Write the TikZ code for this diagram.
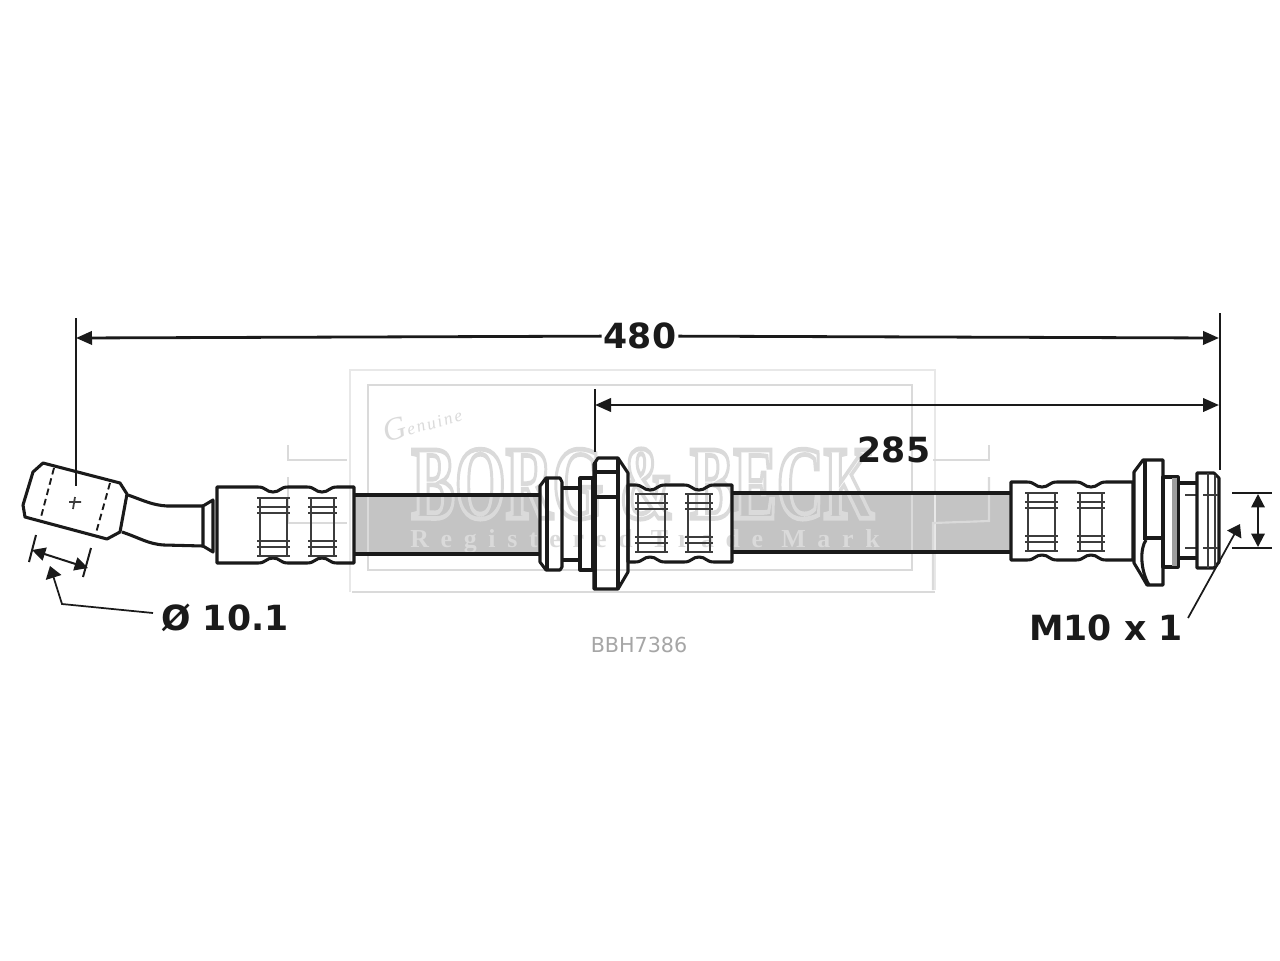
\documentclass[tikz,border=0pt]{standalone}
\usepackage{fontspec}
\usepackage{graphicx}
\usetikzlibrary{arrows.meta}
\setmainfont{DejaVu Sans}
\newfontfamily\lblfont{DejaVu Sans Bold}
\newfontfamily\wmfont{Liberation Serif Bold}
\newfontfamily\subfont[LetterSpace=45]{Liberation Serif Bold}
\newfontfamily\genfont[LetterSpace=12]{Liberation Serif Italic}
\definecolor{ink}{HTML}{1A1A1A}
\definecolor{wmark}{HTML}{DADADA}
\definecolor{wmfaint}{HTML}{E8E8E8}
\definecolor{hosegrey}{HTML}{C4C4C4}
\newcommand{\outlineon}[1]{\special{pdf:code 1 Tr #1 w}}
\newcommand{\outlineoff}{\special{pdf:code 0 Tr}}
\tikzset{
  part/.style={draw=ink,line width=2.3pt,line join=round},
  thinpart/.style={draw=ink!85,line width=1.3pt},
  dashpart/.style={draw=ink,line width=1.4pt,dash pattern=on 5pt off 3pt},
  dimline/.style={draw=ink,line width=2.1pt},
  extline/.style={draw=ink,line width=1.5pt},
  biarrow/.style={dimline,{Triangle[length=12pt,width=10pt]}-{Triangle[length=12pt,width=10pt]}},
  smallbi/.style={draw=ink,line width=1.5pt,{Triangle[length=10pt,width=10pt]}-{Triangle[length=10pt,width=10pt]}},
  leader/.style={draw=ink,line width=1.3pt,-{Triangle[length=9pt,width=12pt]}},
  dimlabel/.style={font=\lblfont\fontsize{26}{26}\selectfont,text=ink,inner sep=1.5pt},
  wm/.style={draw=wmark,line width=1.6pt},
  wmf/.style={draw=wmfaint,line width=1.6pt},
}
\newcommand{\crimpshape}[6]{%
  \draw[part] (#1,#3) -- ({#5-15},#3)
    .. controls ({#5-7},#3) and ({#5-7},{#3+5}) .. (#5,{#3+5})
    .. controls ({#5+7},{#3+5}) and ({#5+7},#3) .. ({#5+15},#3)
    -- ({#6-15},#3)
    .. controls ({#6-7},#3) and ({#6-7},{#3+5}) .. (#6,{#3+5})
    .. controls ({#6+7},{#3+5}) and ({#6+7},#3) .. ({#6+15},#3)
    -- (#2,#3) -- (#2,#4) -- ({#6+15},#4)
    .. controls ({#6+7},#4) and ({#6+7},{#4-5}) .. (#6,{#4-5})
    .. controls ({#6-7},{#4-5}) and ({#6-7},#4) .. ({#6-15},#4)
    -- ({#5+15},#4)
    .. controls ({#5+7},#4) and ({#5+7},{#4-5}) .. (#5,{#4-5})
    .. controls ({#5-7},{#4-5}) and ({#5-7},#4) .. ({#5-15},#4)
    -- (#1,#4) -- cycle;}
\newcommand{\bandshape}[4]{%
  \draw[thinpart] ({#1+3},#3) -- ({#1+3},#4) ({#2-3},#3) -- ({#2-3},#4);
  \draw[thinpart] (#1,{#3+1}) -- (#2,{#3+1})
    (#1,{#3+10}) -- (#2,{#3+10}) (#1,{#3+16}) -- (#2,{#3+16})
    (#1,{#4-16}) -- (#2,{#4-16}) (#1,{#4-10}) -- (#2,{#4-10})
    (#1,{#4-1}) -- (#2,{#4-1});}
\begin{document}
\begin{tikzpicture}[x=.75pt,y=-.75pt]
\useasboundingbox (0,0) rectangle (1280,960);
\fill[white] (0,0) rectangle (1280,960);

% hose fill
\fill[hosegrey] (354,496) rectangle (540,554);
\fill[hosegrey] (732,494) rectangle (1011,552);

% watermark
\draw[wmf] (350,592) -- (350,370) -- (935,370) -- (935,590);
\draw[wm] (352,592) -- (935,592);
\draw[wm] (368,570) -- (368,385) -- (912,385) -- (912,570) -- cycle;
\draw[wm] (288,445) -- (288,460) -- (347,460);
\draw[wm] (288,477) -- (288,523) -- (347,523);
\draw[wm] (933,460) -- (989,460) -- (989,445);
\draw[wm] (989,477) -- (989,521) -- (933,523) -- (933,590);
\node[text=wmark,inner sep=0pt] (wmA) at (643,484)
  {\resizebox{347pt}{52pt}{\outlineon{.45}\wmfont BORG \& BECK\outlineoff}};
\node[text=wmark,inner sep=0pt] (wmC) at (645,541)
  {\resizebox{352pt}{!}{\subfont Registered Trade Mark}};
\node[text=wmark,inner sep=0pt,rotate=16] (wmD) at (422,421)
  {\genfont\fontsize{24}{24}\selectfont G\fontsize{13}{13}\selectfont enuine};

% hose edges
\draw[part] (354,495) -- (540,495) (354,554) -- (540,554);
\draw[part] (732,493) -- (1011,493) (732,552) -- (1011,552);

% left banjo end
\draw[part] (43,463) -- (120,483) -- (127,494) -- (120,532) -- (107,539) -- (25,517) -- (23,505) -- (33,472) -- cycle;
\draw[dashpart] (54,468) -- (41,517) (110,483) -- (96,533);
\draw[thinpart] (69,502) -- (81,502) (75,497) -- (73,509);
\draw[part] (128,495) .. controls (145,501) and (152,505) .. (167,506) -- (203,506);
\draw[part] (122,532) .. controls (140,538) and (148,544) .. (164,545) -- (203,546);
\draw[part] (203,506) -- (213,500) -- (213,552) -- (203,546) -- cycle;

% crimps and bands
\crimpshape{217}{354}{487}{563}{273}{322}
\bandshape{257}{290}{497}{557}
\bandshape{308}{337}{497}{557}
\crimpshape{628}{732}{485}{562}{650}{699}
\bandshape{635}{668}{493}{553}
\bandshape{685}{713}{493}{553}
\crimpshape{1011}{1133}{482}{560}{1042}{1091}
\bandshape{1025}{1058}{492}{552}
\bandshape{1077}{1105}{492}{552}

% centre fitting
\draw[part] (546,478) -- (560,478) -- (562,482) -- (562,567) -- (560,570) -- (546,570) -- (540,562) -- (540,486) -- cycle;
\draw[part] (547,478) -- (547,570);
\draw[part] (562,488) -- (580,488) (562,560) -- (580,560);
\draw[part] (580,478) -- (593,478) -- (593,570) -- (580,570) -- cycle;
\draw[part] (598,458) -- (618,458) -- (628,473) -- (628,572) -- (618,589) -- (594,589) -- (594,464) -- cycle;
\draw[draw=ink,line width=3pt] (595,462) -- (595,588);
\draw[part] (618,458) -- (618,589);
\draw[part] (596,472) -- (618,472) (596,497) -- (618,497);

% right fitting
\draw[part] (1143,460) -- (1163,460) -- (1163,585) -- (1147,585) -- (1140,573) -- (1134,563) -- (1134,472) -- cycle;
\draw[part] (1145,461) -- (1145,540);
\draw[part] (1146,538) -- (1163,538);
\draw[part] (1146,540) .. controls (1140,548) and (1140,570) .. (1149,585);
\draw[part] (1163,477) -- (1178,477) -- (1178,567) -- (1163,567) -- cycle;
\fill[hosegrey!80!black] (1172,478) rectangle (1177,566);
\draw[part] (1178,483) -- (1197,483) (1178,558) -- (1197,558);
\draw[thinpart] (1185,495) -- (1197,495) (1185,548) -- (1197,548);
\draw[part] (1197,473) -- (1214,473) -- (1219,478) -- (1219,562) -- (1214,568) -- (1197,568) -- cycle;
\draw[thinpart] (1208,473) -- (1208,568);
\draw[thinpart] (1215,475) -- (1215,566);
\draw[thinpart] (1203,495) -- (1218,495) (1203,548) -- (1218,548);

% dimension coordinates
\coordinate (a480L) at (76,338);
\coordinate (a480R) at (1219,338);
\coordinate (e480La) at (76,318);
\coordinate (e480Lb) at (76,486);
\coordinate (e480Ra) at (1220,313);
\coordinate (e480Rb) at (1220,470);
\coordinate (a285L) at (595,405);
\coordinate (a285R) at (1219,405);
\coordinate (e285a) at (595,389);
\coordinate (e285b) at (595,452);
\coordinate (t1a) at (1232,493);
\coordinate (t1b) at (1272,493);
\coordinate (t2a) at (1232,548);
\coordinate (t2b) at (1272,548);
\coordinate (tu) at (1258,494);
\coordinate (td) at (1258,547);
\coordinate (mA) at (1188,618);
\coordinate (mB) at (1240,524);
\coordinate (dA1) at (36,535);
\coordinate (dA2) at (29,562);
\coordinate (dB1) at (91,548);
\coordinate (dB2) at (83,577);
\coordinate (dU) at (32,550);
\coordinate (dV) at (88,568);
\coordinate (lA) at (153,613);
\coordinate (lB) at (62,604);
\coordinate (lC) at (50,566);

% dimensions
\node[dimlabel] (l480) at (640,336) {480};
\node[dimlabel] (l285) at (894,450) {285};
\node[dimlabel] (l101) at (225,618) {Ø 10.1};
\node[dimlabel] (lM10) at (1106,628) {M10 x 1};
\node[text=black!35,inner sep=0pt,font=\fontsize{15.5}{15.5}\selectfont] (lpn) at (639,645) {BBH7386};

\draw[extline] (e480La) -- (e480Lb);
\draw[extline] (e480Ra) -- (e480Rb);
\draw[extline] (e285a) -- (e285b);
\draw[dimline,{Triangle[length=12pt,width=10pt]}-] (a480L) -- (l480);
\draw[dimline,-{Triangle[length=12pt,width=10pt]}] (l480) -- (a480R);
\draw[biarrow] (a285L) -- (a285R);
\draw[extline] (t1a) -- (t1b);
\draw[extline] (t2a) -- (t2b);
\draw[smallbi] (tu) -- (td);
\draw[leader] (mA) -- (mB);
\draw[extline] (dA1) -- (dA2);
\draw[extline] (dB1) -- (dB2);
\draw[smallbi] (dU) -- (dV);
\draw[leader] (lA) -- (lB) -- (lC);
\end{tikzpicture}
\end{document}
